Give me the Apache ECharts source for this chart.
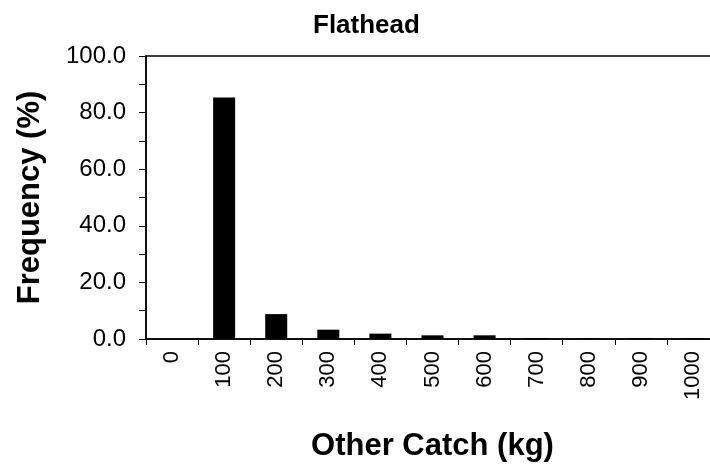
<!DOCTYPE html>
<html>
<head>
<meta charset="utf-8">
<script src="https://cdn.jsdelivr.net/npm/echarts@6/dist/echarts.min.js"></script>
<style>
html,body{margin:0;padding:0;background:#fff;}
#chart{width:710px;height:468px;}
</style>
</head>
<body>
<div id="chart"></div>
<script>
const categories = ['0','100','200','300','400','500','600','700','800','900','1000'];
const frequency = [0, 85.3, 8.8, 3.3, 1.9, 1.3, 1.3, 0.2, 0.2, 0.2, 0.2];
const yTicks = [0, 20, 40, 60, 80, 100];

const FONT = 'Arial, "Liberation Sans", sans-serif';
const chart = echarts.init(document.getElementById('chart'), null, {renderer: 'canvas'});
chart.setOption({
  animation: false,
  backgroundColor: '#fff',
  title: {
    text: 'Flathead',
    left: 308,
    top: 8,
    textStyle: {fontFamily: FONT, fontWeight: 'bold', fontSize: 26, color: '#000'}
  },
  grid: {
    left: 146, right: -9, top: 56, bottom: 129,
    containLabel: false,
    outerBoundsMode: 'none',
    show: true, borderColor: '#000', borderWidth: 1.5, backgroundColor: 'transparent'
  },
  xAxis: {
    type: 'category',
    data: categories,
    boundaryGap: true,
    name: 'Other Catch (kg)',
    nameLocation: 'middle',
    nameGap: 92,
    nameTextStyle: {fontFamily: FONT, fontWeight: 'bold', fontSize: 31, color: '#000'},
    axisLine: {show: true, lineStyle: {color: '#000', width: 1.5}},
    axisTick: {show: true, alignWithLabel: false, length: 6, lineStyle: {color: '#000'}},
    axisLabel: {rotate: 90, fontFamily: FONT, fontSize: 22, color: '#000', margin: 12, interval: 0},
    splitLine: {show: false}
  },
  yAxis: {
    type: 'value',
    min: yTicks[0],
    max: yTicks[yTicks.length - 1],
    interval: 20,
    name: 'Frequency (%)',
    nameLocation: 'middle',
    nameGap: 100,
    nameTextStyle: {fontFamily: FONT, fontWeight: 'bold', fontSize: 31, color: '#000'},
    axisLine: {show: true, lineStyle: {color: '#000', width: 1.5}},
    axisTick: {show: true, length: 7, lineStyle: {color: '#000'}},
    minorTick: {show: true, splitNumber: 2, length: 7, lineStyle: {color: '#000'}},
    axisLabel: {fontFamily: FONT, fontSize: 24, color: '#000', margin: 20,
      formatter: v => v.toFixed(1)},
    splitLine: {show: false}
  },
  series: [{
    type: 'bar',
    data: frequency,
    barWidth: 22,
    itemStyle: {color: '#000'}
  }]
});
</script>
</body>
</html>
